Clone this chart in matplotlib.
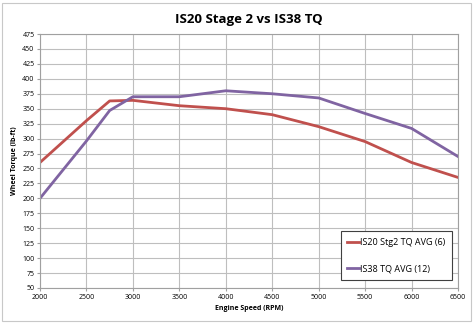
import matplotlib
matplotlib.use("Agg")
import matplotlib.pyplot as plt
from matplotlib.patches import Rectangle

rpm = [2000, 2500, 2750, 3000, 3500, 4000, 4500, 5000, 5500, 6000, 6500]
is20_tq = [260, 330, 363, 364, 355, 350, 340, 320, 295, 260, 235]
is38_tq = [200, 296, 347, 370, 370, 380, 375, 368, 342, 317, 270]

plt.rcParams['font.family'] = ['Open Sans', 'DejaVu Sans']

fig = plt.figure(figsize=(4.74, 3.23), dpi=100)
# chart area border
fig.patches.append(Rectangle((0.004, 0.006), 0.99, 0.985, transform=fig.transFigure,
                             fill=False, edgecolor="#C8C8C8", linewidth=0.8))
ax = fig.add_axes([40 / 474, 1 - 288 / 323, 418 / 474, 254 / 323])

ax.plot(rpm, is20_tq, color="#C0504D", linewidth=2.0, label="IS20 Stg2 TQ AVG (6)")
ax.plot(rpm, is38_tq, color="#8064A2", linewidth=2.0, label="IS38 TQ AVG (12)")

ax.set_xlim(2000, 6500)
ax.set_ylim(50, 475)
ax.set_xticks(range(2000, 6501, 500))
ax.set_yticks(range(50, 476, 25))
ax.grid(True, color="#BEBEBE", linewidth=0.8)
ax.set_axisbelow(True)
for s in ax.spines.values():
    s.set_color("#A0A0A0")
    s.set_linewidth(0.8)
ax.tick_params(labelsize=5, length=2, color="#A0A0A0", pad=2)

ax.set_title("IS20 Stage 2 vs IS38 TQ", fontsize=9.5, fontweight="bold", pad=8)
ax.set_xlabel("Engine Speed (RPM)", fontsize=5, fontweight="bold", labelpad=3)
ax.set_ylabel("Wheel Torque (lb-ft)", fontsize=5, fontweight="bold", labelpad=3)

leg = ax.legend(loc="lower right", fontsize=6.5, fancybox=False, framealpha=1,
                edgecolor="#404040", borderpad=0.75, labelspacing=1.9,
                handlelength=1.3, handletextpad=0.1, borderaxespad=0,
                bbox_to_anchor=(0.9856, 0.0315))
leg.get_frame().set_linewidth(0.8)

plt.savefig("out.png", dpi=100)
